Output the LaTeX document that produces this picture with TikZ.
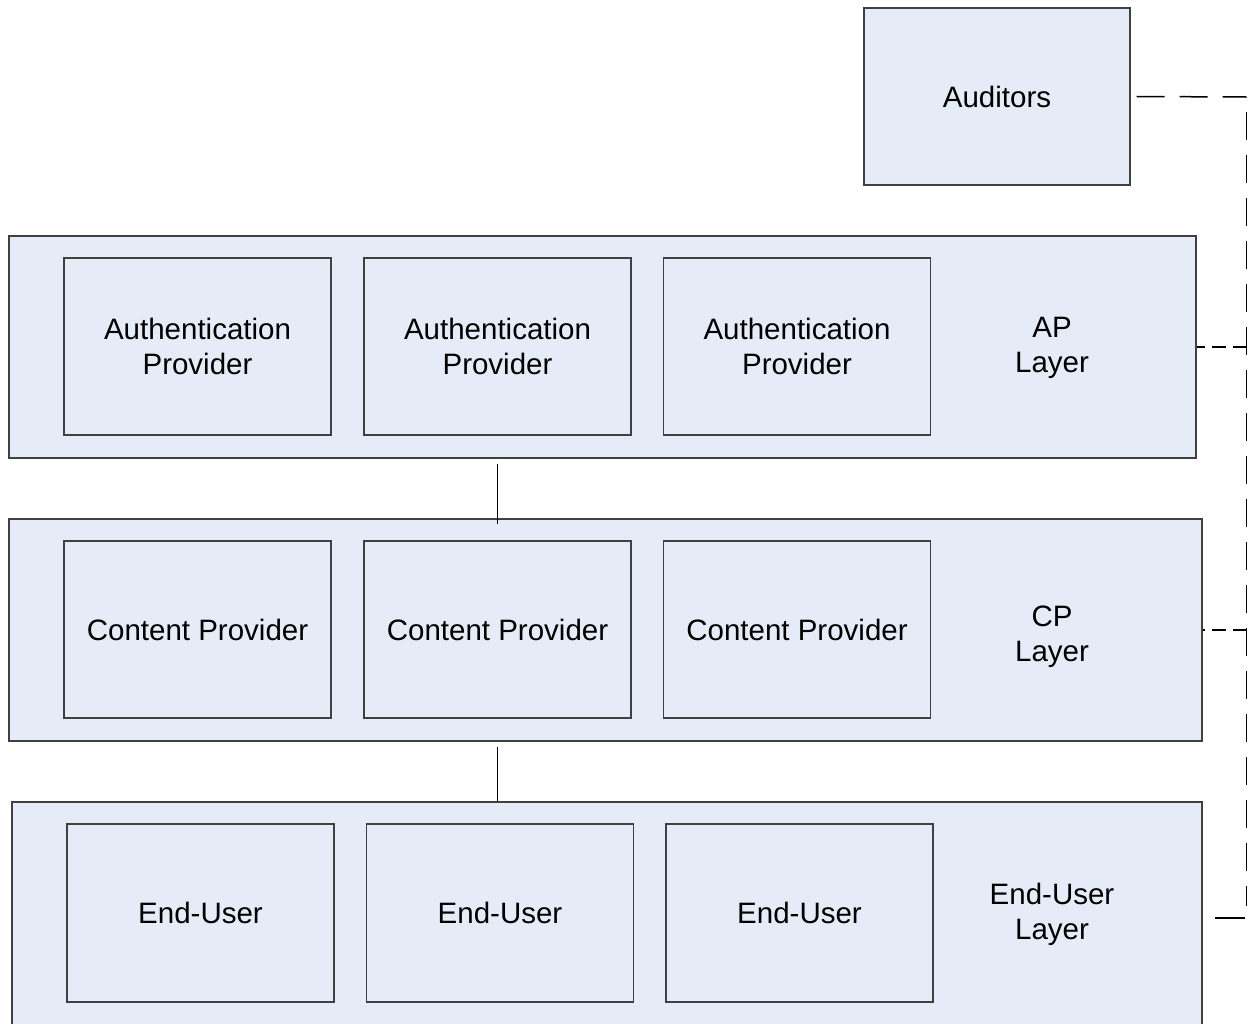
\documentclass[tikz,border=0pt]{standalone}
\usepackage{fontspec}
\setmainfont{Liberation Sans}
\begin{document}
\begin{tikzpicture}[x=1pt,y=-1pt,
  box/.style={draw=black!75, line width=1.4pt, fill=boxfill, inner sep=0pt,
    align=center, font=\fontsize{29.5}{35}\selectfont},
  layer/.style={box},
  member/.style={box, minimum width=267pt, minimum height=177pt},
  caption/.style={box, draw=none, fill=none},
  link/.style={line width=1.5pt, black},
  audit/.style={line width=1.5pt, black, dash pattern=on 28pt off 15pt},
  branch/.style={line width=1.5pt, black, dash pattern=on 14pt off 7pt}]
\definecolor{boxfill}{HTML}{E6ECF7}
\useasboundingbox (0,0) rectangle (1249,1023);
\clip (0,0) rectangle (1249,1023);

% auditors
\node[box, minimum width=266pt, minimum height=177pt] (aud) at (997,96.5) {Auditors};

% authentication provider layer
\node[layer, minimum width=1187pt, minimum height=222pt] (ap) at (602.5,347) {};
\node[member] (ap1) at (197.5,346.5) {Authentication\\Provider};
\node[member] (ap2) at (497.5,346.5) {Authentication\\Provider};
\node[member] (ap3) at (797,346.5) {Authentication\\Provider};
\node[caption] (aplab) at (1052,348) {AP\\Layer};

% content provider layer
\node[layer, minimum width=1193pt, minimum height=222pt] (cp) at (605.5,630) {};
\node[member] (cp1) at (197.5,629.5) {Content Provider};
\node[member] (cp2) at (497.5,629.5) {Content Provider};
\node[member] (cp3) at (797,629.5) {Content Provider};
\node[caption] (cplab) at (1052,637) {CP\\Layer};

% end-user layer
\node[layer, minimum width=1190pt, minimum height=244pt] (eu) at (607,924) {};
\node[member, minimum height=178pt] (eu1) at (200.5,913) {End-User};
\node[member, minimum height=178pt] (eu2) at (500,913) {End-User};
\node[member, minimum height=178pt] (eu3) at (799.5,913) {End-User};
\node[caption] (eulab) at (1052,914) {End-User\\Layer};

% links between layers
\draw[link] ([yshift=-5pt]ap.south -| ap2.center) -- ([yshift=-6pt]cp.north -| ap2.center);
\draw[link] ([yshift=-5pt]cp.south -| cp2.center) -- (eu.north -| cp2.center);

% auditing bus
\coordinate (busTop) at (1246.5,97);
\coordinate (busBot) at (1246.5,906);
\coordinate (euTap) at (1215,918);
\draw[audit] ([xshift=6pt]aud.east) -- (busTop);
\draw[audit, dash phase=28pt] (busTop) -- (busBot);
\draw[branch] (ap.east -| busTop) -- (ap.east);
\draw[branch] (cp.east -| busTop) -- (cp.east);
\draw[link] (euTap) -- ([xshift=-2pt]euTap -| busTop);
\end{tikzpicture}
\end{document}
